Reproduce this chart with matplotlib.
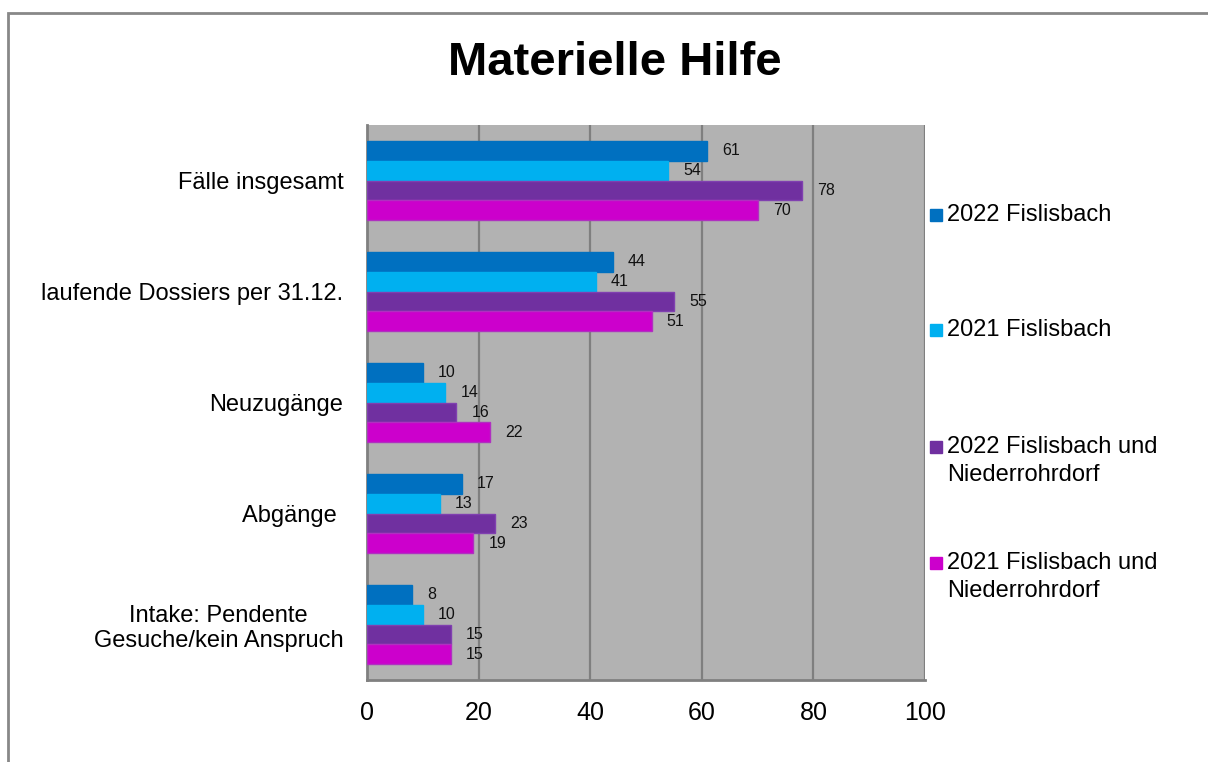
import matplotlib
matplotlib.use("Agg")
import matplotlib.pyplot as plt
import numpy as np
from matplotlib.patches import Rectangle

plt.rcParams['font.family'] = ['Liberation Sans', 'DejaVu Sans']

categories = ["Fälle insgesamt", "laufende Dossiers per 31.12.", "Neuzugänge",
              "Abgänge ", "Intake: Pendente\nGesuche/kein Anspruch"]
series_names = ["2022 Fislisbach", "2021 Fislisbach",
                "2022 Fislisbach und\nNiederrohrdorf", "2021 Fislisbach und\nNiederrohrdorf"]
fis_2022 = [61, 44, 10, 17, 8]
fis_2021 = [54, 41, 14, 13, 10]
fis_nie_2022 = [78, 55, 16, 23, 15]
fis_nie_2021 = [70, 51, 22, 19, 15]
x_ticks = [0, 20, 40, 60, 80, 100]

colors = ['#0070C0', '#00B0F0', '#7030A0', '#CC00CC']
edges = ['#0070C0', '#00B0F0', '#8040B0', '#B030C0']
series = [fis_2022, fis_2021, fis_nie_2022, fis_nie_2021]

W, H = 1208, 762
fig = plt.figure(figsize=(W / 100, H / 100), dpi=100)
ax = fig.add_axes([367 / W, 1 - 680 / H, (925 - 367) / W, (680 - 125) / H])
ax.set_facecolor('#B2B2B2')

# outer chart frame
fig.patches.append(Rectangle((8 / W, -0.1), 1.2, 1.1 - 13 / H, transform=fig.transFigure,
                             fill=False, edgecolor='#888888', linewidth=2))

y = np.arange(len(categories))
bh = 0.18
for i, (vals, c, ec) in enumerate(zip(series, colors, edges)):
    pos = y - 1.5 * bh + i * bh
    ax.barh(pos, vals, height=bh, color=c, edgecolor=ec, linewidth=1, zorder=3)
    for p, v in zip(pos, vals):
        ax.annotate(str(v), (v, p), xytext=(11, 0), textcoords='offset points',
                    ha='left', va='center', fontsize=11.5, color='#111111', zorder=4)

ax.set_xlim(0, 100)
ax.set_ylim(len(categories) - 0.5, -0.5)
ax.set_xticks(x_ticks)
ax.set_xticklabels([str(t) for t in x_ticks], fontsize=18)
ax.set_yticks(y)
ax.set_yticklabels(categories, fontsize=17, multialignment='center')
ax.tick_params(axis='both', length=0)
ax.tick_params(axis='x', pad=15)
ax.tick_params(axis='y', pad=17)
for t in x_ticks[1:]:
    ax.axvline(t, color='#7F7F7F', linewidth=1.6, zorder=2)
for s in ['top', 'right']:
    ax.spines[s].set_visible(False)
for s in ['left', 'bottom']:
    ax.spines[s].set_color('#808080')
    ax.spines[s].set_linewidth(2)

fig.text(615 / W, 1 - 63 / H, "Materielle Hilfe", fontsize=34, fontweight='bold',
         ha='center', va='center')

# legend, one entry per series; marker sits beside the first text line
legend_y = [215, 330, 447, 563]
line_gap = 28
for name, c, ly in zip(series_names, colors, legend_y):
    fig.patches.append(Rectangle((930 / W, 1 - (ly + 6) / H), 12 / W, 12 / H,
                                 transform=fig.transFigure, color=c))
    for k, line in enumerate(name.split('\n')):
        fig.text(947 / W, 1 - (ly + k * line_gap) / H, line, fontsize=17,
                 ha='left', va='center')

fig.savefig('out.png', dpi=100)
